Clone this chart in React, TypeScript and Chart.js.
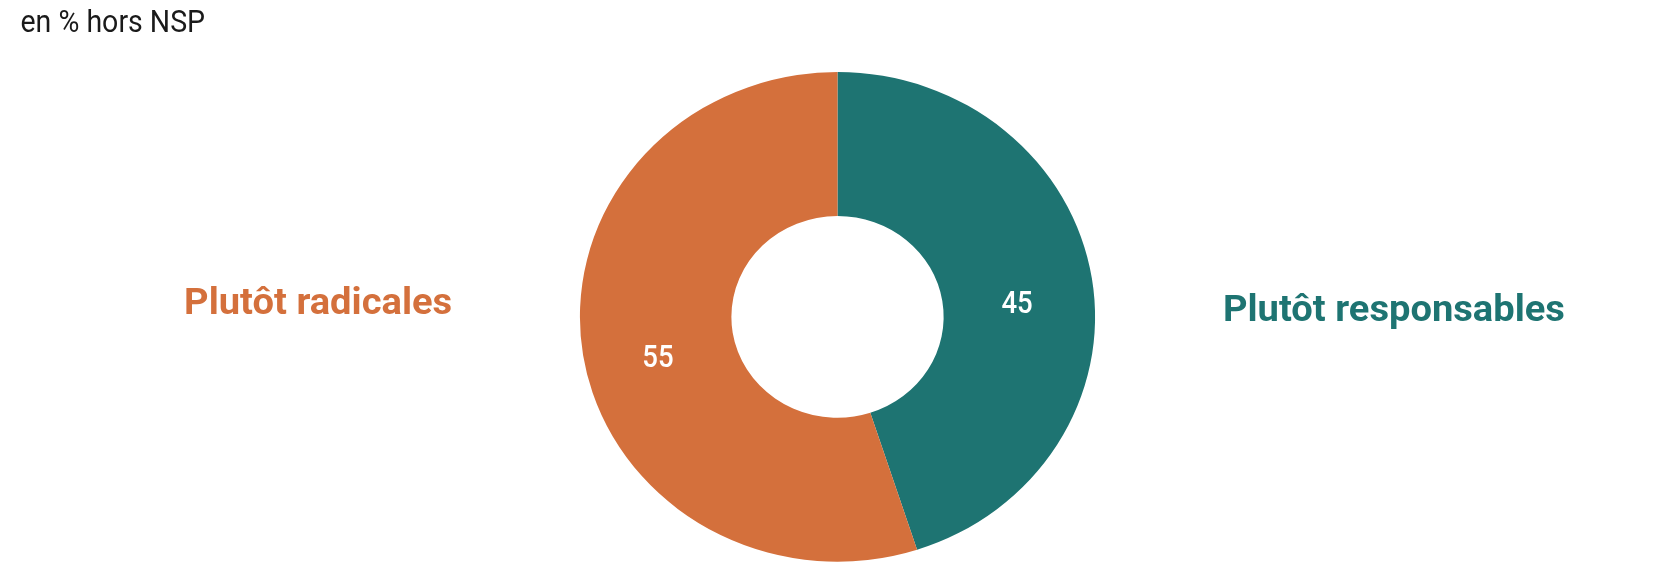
import React, { useEffect, useRef } from "react";
import { Chart, registerables } from "chart.js";

Chart.register(...registerables);

const categories = ["Plutôt responsables", "Plutôt radicales"];
const values = [45, 55];
const colors = ["#1E7472", "#D4703C"];
const titleText = "en % hors NSP";

const W = 1670;
const H = 584;
const X_STRETCH = 1.052;
const FONT = "Roboto, 'DejaVu Sans', sans-serif";

function drawText(
  ctx: CanvasRenderingContext2D,
  text: string,
  x: number,
  y: number,
  font: string,
  color: string,
  align: "left" | "center",
  sx: number
) {
  ctx.save();
  ctx.font = font;
  ctx.fillStyle = color;
  ctx.textBaseline = "alphabetic";
  ctx.textAlign = "left";
  const w = ctx.measureText(text).width * sx;
  const left = align === "center" ? x - w / 2 : x;
  ctx.translate(left, y);
  ctx.scale(sx, 1);
  ctx.fillText(text, 0, 0);
  ctx.restore();
}

const stretchPlugin = {
  id: "stretchAndLabels",
  beforeDatasetsDraw(chart: any) {
    const meta = chart.getDatasetMeta(0);
    const cx = meta.data[0].x;
    const ctx = chart.ctx;
    ctx.save();
    ctx.translate(cx, 0);
    ctx.scale(X_STRETCH, 1);
    ctx.translate(-cx, 0);
  },
  afterDatasetsDraw(chart: any) {
    const ctx = chart.ctx as CanvasRenderingContext2D;
    ctx.restore();
    const meta = chart.getDatasetMeta(0);
    const cx = meta.data[0].x;
    // value labels
    meta.data.forEach((arc: any, i: number) => {
      const p = arc.tooltipPosition(false);
      const x = cx + (p.x - cx) * X_STRETCH;
      const y = p.y + 23;
      drawText(ctx, String(values[i]), x, y, `500 31px ${FONT}`, "#ffffff", "center", 0.89);
    });
    // category labels
    drawText(ctx, categories[1], W * 0.1905, 313.5, `bold 37px ${FONT}`, colors[1], "center", 1.03);
    drawText(ctx, categories[0], W * 0.8347, 321, `bold 37px ${FONT}`, colors[0], "center", 1.03);
    // title
    drawText(ctx, titleText, 20.5, 32.3, `400 31px ${FONT}`, "#1a1a1a", "left", 0.92);
  },
};

export default function App() {
  const ref = useRef<HTMLCanvasElement | null>(null);
  useEffect(() => {
    if (!ref.current) return;
    const chart = new Chart(ref.current, {
      type: "doughnut",
      data: {
        labels: categories,
        datasets: [
          {
            data: values,
            backgroundColor: colors,
            borderWidth: 0,
            hoverOffset: 0,
          },
        ],
      },
      options: {
        responsive: false,
        animation: false,
        cutout: "41.2%",
        layout: { padding: { top: 72, bottom: 22.3, left: 5, right: 0 } },
        plugins: {
          legend: { display: false },
          tooltip: { enabled: false },
          title: { display: false },
        },
        events: [],
      },
      plugins: [stretchPlugin],
    });
    return () => chart.destroy();
  }, []);
  return (
    <canvas
      ref={ref}
      width={W}
      height={H}
      style={{ position: "absolute", left: 0, top: 0, width: W, height: H, background: "#ffffff" }}
    />
  );
}
